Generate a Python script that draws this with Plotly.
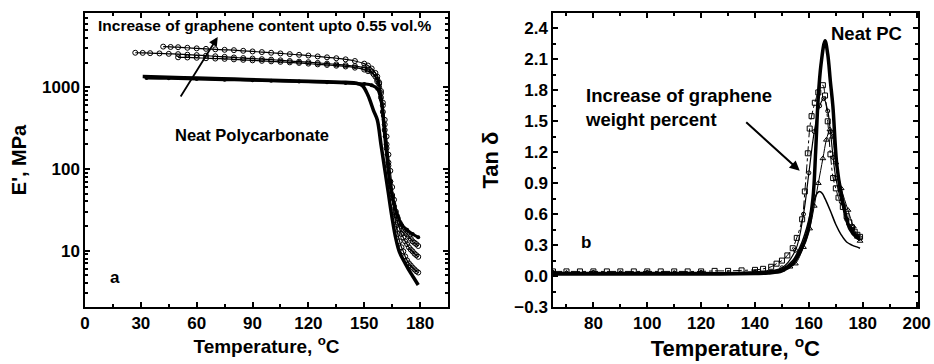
import plotly.graph_objects as go

# ---------------- Panel a : storage modulus E' (MPa) vs temperature -------------
neat_T = [31, 40, 60, 80, 100, 120, 140, 146, 149, 152, 155, 157, 159, 161, 163, 165, 167, 169, 172, 175, 177, 179]
neat_E = [1360, 1340, 1300, 1260, 1220, 1190, 1150, 1120, 1050, 800, 520, 400, 200, 100, 50, 25, 14, 9.5, 7, 5.3, 4.5, 3.8]

g1_T = [33, 45, 60, 75, 90, 100, 115, 130, 140, 150, 154, 157, 159, 160, 161, 162, 164, 166, 168, 170, 173, 176, 179]
g1_E = [1300, 1290, 1260, 1240, 1220, 1200, 1180, 1150, 1130, 1100, 1060, 960, 700, 450, 250, 150, 60, 38, 27, 21, 18, 16, 14.6]

g2_T = [42, 46, 50, 55, 60, 65, 70, 75, 80, 85, 90, 95, 100, 105, 110, 115, 120, 125, 130, 135, 140, 145, 150, 152, 154, 156, 157, 158, 159, 160, 161, 162, 163, 164, 165, 166, 167, 168, 169, 170, 171, 172, 173, 174, 175, 176, 177, 178, 179]
g2_E = [3150, 3120, 3100, 3050, 3000, 2960, 2920, 2880, 2850, 2800, 2750, 2700, 2650, 2600, 2550, 2500, 2450, 2390, 2330, 2270, 2200, 2100, 1950, 1850, 1700, 1500, 1350, 1150, 900, 650, 400, 250, 150, 95, 60, 42, 30, 25, 22, 20, 18, 17, 16, 15, 14, 13, 12.5, 12, 11.4]

g3_T = [27, 31, 35, 40, 45, 50, 55, 60, 65, 70, 75, 80, 85, 90, 95, 100, 105, 110, 115, 120, 125, 130, 135, 140, 145, 150, 152, 154, 156, 157, 158, 159, 160, 161, 162, 163, 164, 165, 166, 167, 168, 169, 170, 171, 172, 173, 174, 175, 176, 177, 178, 179]
g3_E = [2650, 2640, 2620, 2600, 2570, 2550, 2510, 2480, 2440, 2400, 2360, 2320, 2280, 2250, 2210, 2180, 2140, 2100, 2060, 2030, 1990, 1950, 1910, 1870, 1820, 1740, 1650, 1550, 1350, 1180, 1000, 750, 500, 300, 180, 110, 70, 48, 35, 27, 22, 18.5, 16, 14.5, 13, 12, 11, 10.3, 9.8, 9.2, 8.8, 8.4]

g4_T = [50, 55, 60, 65, 70, 75, 80, 85, 90, 95, 100, 105, 110, 115, 120, 125, 130, 135, 140, 145, 150, 152, 155, 157, 158, 159, 160, 161, 162, 163, 164, 165, 166, 167, 168, 169, 170, 171, 172, 173, 174, 175, 176, 177, 178, 179]
g4_E = [2330, 2320, 2300, 2270, 2250, 2230, 2200, 2170, 2140, 2110, 2080, 2050, 2020, 1990, 1950, 1910, 1880, 1840, 1800, 1740, 1650, 1580, 1450, 1250, 1100, 850, 600, 350, 200, 120, 70, 45, 30, 21, 16, 13, 11, 9.8, 8.5, 7.6, 7, 6.6, 6.2, 5.9, 5.6, 5.4]

a_xticks = [0, 30, 60, 90, 120, 150, 180]
a_yticks = [10, 100, 1000]

# ---------------- Panel b : tan delta vs temperature -------------
tn_T = [65, 80, 100, 120, 140, 145, 150, 154, 157, 159.6, 161.5, 162.5, 163.4, 164.5, 166, 167, 168, 168.9, 170.4, 172, 175.2, 178, 179]
tn_neat = [0.02, 0.02, 0.02, 0.02, 0.025, 0.03, 0.05, 0.12, 0.25, 0.43, 0.75, 1.2, 1.7, 2.05, 2.28, 2.15, 1.88, 1.65, 1.07, 0.8, 0.46, 0.37, 0.36]

sq_T = [65, 70, 75, 80, 85, 90, 95, 100, 105, 110, 115, 120, 125, 130, 135, 140, 143, 146, 148, 150, 152, 154, 155.5, 157.5, 158.5, 159.6, 160.3, 161, 162.2, 163.5, 165.2, 166, 167, 168, 169, 170, 171, 172.6, 174, 175, 176, 177, 178, 179]
sq_tan = [0.045, 0.045, 0.045, 0.045, 0.045, 0.045, 0.045, 0.045, 0.045, 0.045, 0.045, 0.045, 0.05, 0.05, 0.055, 0.06, 0.07, 0.09, 0.12, 0.15, 0.2, 0.27, 0.37, 0.55, 0.82, 1.19, 1.43, 1.55, 1.68, 1.78, 1.85, 1.75, 1.5, 1.18, 0.95, 0.85, 0.76, 0.67, 0.58, 0.52, 0.47, 0.43, 0.4, 0.38]

ci_T = [65, 80, 100, 120, 140, 150, 155, 158, 160, 162, 164, 165.5, 167, 168, 169, 170, 172, 174, 176, 178, 179]
ci_tan = [0.035, 0.035, 0.035, 0.035, 0.04, 0.08, 0.25, 0.6, 1.0, 1.4, 1.65, 1.72, 1.6, 1.4, 1.15, 0.95, 0.72, 0.55, 0.45, 0.39, 0.37]

tr_T = [65, 70, 80, 90, 100, 110, 120, 130, 140, 145, 150, 153, 155, 158, 160.3, 162, 163.5, 165.2, 166.5, 167.8, 168.8, 170, 172, 174.5, 176.5, 178, 179]
tr_tan = [0.03, 0.03, 0.03, 0.03, 0.03, 0.03, 0.03, 0.03, 0.035, 0.04, 0.06, 0.09, 0.12, 0.28, 0.46, 0.68, 0.9, 1.14, 1.32, 1.42, 1.35, 1.1, 0.85, 0.64, 0.48, 0.38, 0.34]

th_T = [65, 80, 100, 120, 140, 145, 150, 154, 157, 159, 161, 163, 164, 165, 166, 168, 170, 172, 174, 176, 178, 179]
th_tan = [0.03, 0.03, 0.03, 0.03, 0.04, 0.05, 0.07, 0.15, 0.3, 0.45, 0.65, 0.8, 0.82, 0.8, 0.75, 0.63, 0.5, 0.4, 0.33, 0.3, 0.28, 0.27]

b_xticks = [80, 100, 120, 140, 160, 180, 200]
b_yticks = [-0.3, 0.0, 0.3, 0.6, 0.9, 1.2, 1.5, 1.8, 2.1, 2.4]

W, H = 934, 364
FONT = "Liberation Sans, Arial, sans-serif"

fig = go.Figure()

# panel a traces
fig.add_trace(go.Scatter(x=neat_T, y=neat_E, mode="lines", line=dict(color="black", width=3.5, shape="spline"),
                         xaxis="x", yaxis="y", showlegend=False))
fig.add_trace(go.Scatter(x=g1_T, y=g1_E, mode="lines+markers", line=dict(color="black", width=3, shape="spline"),
                         marker=dict(symbol="circle", size=4, color="black"), xaxis="x", yaxis="y", showlegend=False))
for tx, ey in [(g2_T, g2_E), (g3_T, g3_E), (g4_T, g4_E)]:
    fig.add_trace(go.Scatter(x=tx, y=ey, mode="lines+markers", line=dict(color="black", width=1.2, shape="spline"),
                             marker=dict(symbol="circle-open", size=5, color="black", line=dict(width=1)),
                             xaxis="x", yaxis="y", showlegend=False))

# panel b traces
fig.add_trace(go.Scatter(x=tn_T, y=tn_neat, mode="lines", line=dict(color="black", width=3.5, shape="spline"),
                         xaxis="x2", yaxis="y2", showlegend=False))
fig.add_trace(go.Scatter(x=sq_T, y=sq_tan, mode="lines+markers", line=dict(color="black", width=1, dash="dashdot", shape="spline"),
                         marker=dict(symbol="square-open", size=5, color="black", line=dict(width=1)),
                         xaxis="x2", yaxis="y2", showlegend=False))
fig.add_trace(go.Scatter(x=ci_T, y=ci_tan, mode="lines+markers", line=dict(color="black", width=1.2, shape="spline"),
                         marker=dict(symbol="circle-open", size=4, color="black", line=dict(width=1)),
                         xaxis="x2", yaxis="y2", showlegend=False))
fig.add_trace(go.Scatter(x=tr_T, y=tr_tan, mode="lines+markers", line=dict(color="black", width=1, shape="spline"),
                         marker=dict(symbol="triangle-up-open", size=5, color="black", line=dict(width=1)),
                         xaxis="x2", yaxis="y2", showlegend=False))
fig.add_trace(go.Scatter(x=th_T, y=th_tan, mode="lines", line=dict(color="black", width=1.5, shape="spline"),
                         xaxis="x2", yaxis="y2", showlegend=False))

tickfont = dict(family=FONT, size=17, color="black", weight="bold")
common = dict(showline=True, linecolor="black", linewidth=1.5, mirror="ticks", ticks="inside",
              ticklen=5, tickwidth=1.5, tickcolor="black", showgrid=False, zeroline=False,
              tickfont=tickfont, automargin=False)

def ttl(s, size, standoff):
    return dict(text=s, font=dict(family=FONT, size=size, color="black", weight="bold"), standoff=standoff)

fig.update_layout(
    width=W, height=H, margin=dict(l=0, r=0, t=0, b=0),
    paper_bgcolor="white", plot_bgcolor="white",
    xaxis=dict(domain=[85 / W, 448 / W], range=[0, 195], anchor="y", tickvals=a_xticks,
               title=ttl("Temperature, <sup>o</sup>C", 19, 1),
               minor=dict(ticks="inside", ticklen=3, dtick=15, tick0=0, tickcolor="black"), **common),
    yaxis=dict(domain=[1 - 307 / H, 1 - 13 / H], type="log", range=[0.31, 3.91], anchor="x",
               tickvals=a_yticks, ticktext=[str(v) for v in a_yticks],
               title=ttl("E', MPa", 20, 10),
               minor=dict(ticks="inside", ticklen=3, tickcolor="black",
                          tickvals=[m * d for d in (1, 10, 100, 1000) for m in range(2, 10)]), **common),
    xaxis2=dict(domain=[553 / W, 917.7 / W], range=[65, 200.4], anchor="y2", tickvals=b_xticks,
                title=ttl("Temperature, <sup>o</sup>C", 22, 0),
                minor=dict(ticks="inside", ticklen=3, dtick=10, tick0=0, tickcolor="black"), **common),
    yaxis2=dict(domain=[1 - 307 / H, 1 - 13 / H], range=[-0.3, 2.55], anchor="x2",
                tickvals=b_yticks, tickformat=".1f",
                title=ttl("Tan δ", 22, 10),
                minor=dict(ticks="inside", ticklen=3, dtick=0.15, tick0=0, tickcolor="black"), **common),
)

def txt(s, x, y, size, xanchor="center", yanchor="middle", angle=0, align="center"):
    fig.add_annotation(text=s, x=x / W, y=1 - y / H, xref="paper", yref="paper", showarrow=False,
                       xanchor=xanchor, yanchor=yanchor, textangle=angle, align=align,
                       font=dict(family=FONT, size=size, color="black", weight="bold"))

# panel a texts
txt("Increase of graphene content upto 0.55 vol.%", 265, 26, 15.5)
txt("Neat Polycarbonate", 252, 135, 16.5)
txt("a", 115, 277, 17)

# panel b texts
txt("Neat PC", 866, 33, 18.5)
txt("Increase of graphene<br>weight percent", 583, 107, 18.5, xanchor="left", align="left")
txt("b", 586, 243, 17)

# arrows
fig.add_annotation(x=71.3, y=3.616, xref="x", yref="y", ax=-38, ay=61, showarrow=True,
                   arrowhead=2, arrowsize=1, arrowwidth=1.8, arrowcolor="black", text="")
fig.add_annotation(x=156.6, y=1.02, xref="x2", yref="y2", ax=-55, ay=-50, showarrow=True,
                   arrowhead=2, arrowsize=1, arrowwidth=2, arrowcolor="black", text="")

fig.write_html("out.html")
